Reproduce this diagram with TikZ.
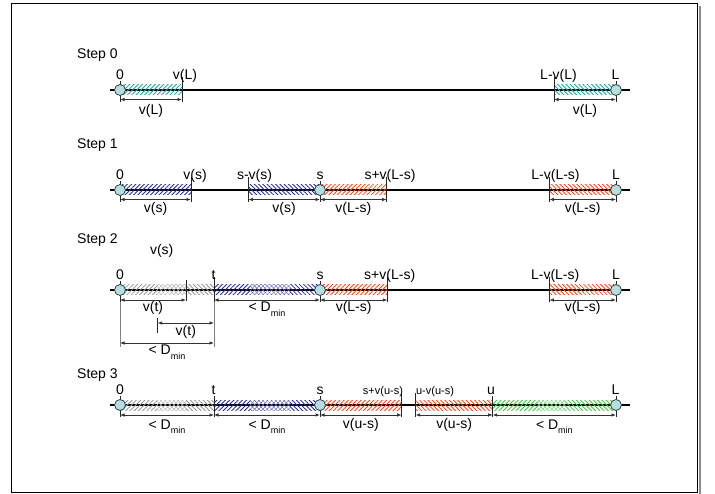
\documentclass[tikz,border=0pt]{standalone}
\usepackage{fontspec}
\setmainfont{Liberation Sans}
\usetikzlibrary{patterns.meta,arrows.meta}

\definecolor{hteal}{RGB}{25,170,170}
\definecolor{hblue}{RGB}{40,40,160}
\definecolor{hred}{RGB}{255,70,25}
\definecolor{hgray}{RGB}{150,150,150}
\definecolor{hgreen}{RGB}{60,205,60}
\definecolor{circfill}{RGB}{182,222,222}
\definecolor{circline}{RGB}{50,70,70}

\tikzset{
  timeline/.style={line width=1.1pt, black},
  tickline/.style={line width=0.8pt, black!85},
  extline/.style={line width=0.6pt, black!50},
  dimarrow/.style={line width=0.7pt, black!80,
    {Latex[length=4.5pt,width=3.5pt]}-{Latex[length=4.5pt,width=3.5pt]}},
  toplab/.style={anchor=base, inner sep=0pt, font=\fontsize{14}{16}\selectfont},
  smalllab/.style={anchor=base, inner sep=0pt, font=\fontsize{11}{13}\selectfont},
  dimlab/.style={anchor=base, inner sep=0pt, font=\fontsize{14}{16}\selectfont},
  steplab/.style={anchor=base west, inner sep=0pt, font=\fontsize{14}{16}\selectfont},
  endpt/.style={circle, draw=circline, fill=circfill, line width=0.8pt,
    minimum size=11pt, inner sep=0pt},
}

% hatched segment: colour, hatch angle, x from, x to, axis y
\newcommand\hatch[5]{%
  \fill[pattern={Lines[angle=#2,distance=3pt,line width=0.85pt]}, pattern color=#1]
    (#3,#5-5) rectangle (#4,#5+5);}
% cross-hatched overlap of two hatchings: colour, x from, x to, axis y
\newcommand\xhatch[4]{%
  \fill[pattern={Hatch[angle=45,distance=3pt,line width=0.5pt]}, pattern color=#1!70]
    (#2,#4-5) rectangle (#3,#4+5);}
% dimension line: name, x from, x to, y, text, text baseline
\newcommand\dimline[6]{%
  \coordinate (#1a) at (#2,#4);
  \coordinate (#1b) at (#3,#4);
  \draw[dimarrow] (#1a) -- (#1b);
  \node[dimlab] (#1l) at ({(#2+#3)/2},#6) {#5};}
% end point of the segment: name, x, axis y
\newcommand\segend[3]{%
  \draw[tickline] (#2,#3-9) -- (#2,#3+12);
  \node[endpt] (#1) at (#2,#3) {};}
\newcommand\Dmin{< D\raisebox{-0.32em}{\fontsize{9}{9}\selectfont min}}

\begin{document}
\begin{tikzpicture}[x=1pt,y=-1pt]
\useasboundingbox (0,0) rectangle (715,494);

% frame with shadow
\fill[black!45] (699,6) rectangle (701,494);
\draw[line width=0.9pt] (11,3) rectangle (697,492);

% ---------------- Step 0 ----------------
\node[steplab] (st0) at (77,58.5) {Step 0};
\draw[timeline] (110,90) -- (630,90);
\hatch{hteal}{45}{120}{182}{90}
\hatch{hteal}{-45}{554}{616}{90}
\draw[tickline] (182,77) -- (182,102);
\draw[tickline] (554,77) -- (554,102);
\segend{a0}{120}{90}
\segend{aL}{616}{90}
\node[toplab] (a0t) at (120,79.5) {0};
\node[toplab] (a1t) at (185,79.5) {v(L)};
\node[toplab] (a2t) at (558.5,79.5) {L-v(L)};
\node[toplab] (aLt) at (615.5,79.5) {L};
\dimline{da1}{120}{182}{99.5}{v(L)}{115}
\dimline{da2}{554}{616}{99.5}{v(L)}{115}

% ---------------- Step 1 ----------------
\node[steplab] (st1) at (77,148.5) {Step 1};
\draw[timeline] (110,190) -- (630,190);
\hatch{hblue}{45}{120}{191}{190}
\hatch{hblue}{-45}{248.3}{320}{190}
\hatch{hred}{45}{320}{386.7}{190}
\hatch{hred}{-45}{549.3}{616}{190}
\foreach \tx in {191,248.3,386.7,549.3}
  \draw[tickline] (\tx,177) -- (\tx,202);
\segend{b0}{120}{190}
\segend{bs}{320}{190}
\segend{bL}{616}{190}
\node[toplab] (b0t) at (120,179.5) {0};
\node[toplab] (b1t) at (195,179.5) {v(s)};
\node[toplab] (b2t) at (254.5,179.5) {s-v(s)};
\node[toplab] (bst) at (320,179.5) {s};
\node[toplab] (b3t) at (390,179.5) {s+v(L-s)};
\node[toplab] (b4t) at (555.5,179.5) {L-v(L-s)};
\node[toplab] (bLt) at (616,179.5) {L};
\dimline{db1}{120}{191}{199.5}{v(s)}{213}
\dimline{db2}{248.3}{320}{199.5}{v(s)}{213}
\dimline{db3}{320}{386.7}{199.5}{v(L-s)}{213}
\dimline{db4}{549.3}{616}{199.5}{v(L-s)}{213}

% ---------------- Step 2 ----------------
\node[steplab] (st2) at (77,243.5) {Step 2};
\node[toplab] (c5t) at (161.7,255) {v(s)};
\draw[timeline] (110,290) -- (630,290);
\hatch{hgray}{45}{120}{157}{290}
\xhatch{hgray}{157}{186}{290}
\hatch{hgray}{-45}{186}{214}{290}
\hatch{hblue}{45}{214}{250}{290}
\xhatch{hblue}{250}{290}{290}
\hatch{hblue}{-45}{290}{320}{290}
\hatch{hred}{45}{320}{387.3}{290}
\hatch{hred}{-45}{549.3}{616}{290}
\draw[tickline] (186,280) -- (186,301);
\draw[tickline] (214,277) -- (214,302);
\foreach \tx in {387.3,549.3}
  \draw[tickline] (\tx,277) -- (\tx,302);
\draw[extline] (120,302) -- (120,347);
\draw[extline] (214,302) -- (214,347);
\draw[tickline] (157.7,318) -- (157.7,333);
\segend{c0}{120}{290}
\segend{cs}{320}{290}
\segend{cL}{616}{290}
\node[toplab] (c0t) at (120,279.5) {0};
\node[toplab] (ctt) at (213.5,279.5) {t};
\node[toplab] (cst) at (320,279.5) {s};
\node[toplab] (c3t) at (389.7,279.5) {s+v(L-s)};
\node[toplab] (c4t) at (555.2,279.5) {L-v(L-s)};
\node[toplab] (cLt) at (616,279.5) {L};
\dimline{dc1}{120}{186}{300}{v(t)}{312}
\dimline{dc2}{214}{320}{300}{\Dmin}{312}
\dimline{dc3}{320}{387.3}{300}{v(L-s)}{312}
\dimline{dc4}{549.3}{616}{300}{v(L-s)}{312}
\dimline{dc5}{157.7}{214}{323}{v(t)}{336}
\dimline{dc6}{120}{214}{343}{\Dmin}{355}

% ---------------- Step 3 ----------------
\node[steplab] (st3) at (77,378.5) {Step 3};
\draw[timeline] (110,405) -- (630,405);
\hatch{hgray}{45}{120}{157}{405}
\xhatch{hgray}{157}{186}{405}
\hatch{hgray}{-45}{186}{214}{405}
\hatch{hblue}{45}{214}{250}{405}
\xhatch{hblue}{250}{290}{405}
\hatch{hblue}{-45}{290}{320}{405}
\hatch{hred}{45}{320}{401.7}{405}
\hatch{hred}{-45}{415.7}{492.7}{405}
\hatch{hgreen}{45}{492.7}{538}{405}
\xhatch{hgreen}{538}{565}{405}
\hatch{hgreen}{-45}{565}{616}{405}
\draw[tickline] (214,396) -- (214,417);
\draw[tickline] (401.7,393) -- (401.7,417);
\draw[tickline] (415.7,393) -- (415.7,417);
\draw[tickline] (492.7,396) -- (492.7,417);
\segend{d0}{120}{405}
\segend{ds}{320}{405}
\segend{dL}{616}{405}
\node[toplab] (d0t) at (120,394.5) {0};
\node[toplab] (dtt) at (213.5,394.5) {t};
\node[toplab] (dst) at (320,394.5) {s};
\node[smalllab] (d3t) at (383,394.5) {s+v(u-s)};
\node[smalllab] (d4t) at (435,394.5) {u-v(u-s)};
\node[toplab] (dut) at (491,394.5) {u};
\node[toplab] (dLt) at (615.5,394.5) {L};
\dimline{dd1}{120}{214}{415}{\Dmin}{429}
\dimline{dd2}{214}{320}{415}{\Dmin}{429}
\dimline{dd3}{320}{401.7}{415}{v(u-s)}{428}
\dimline{dd4}{415.7}{492.7}{415}{v(u-s)}{428}
\dimline{dd5}{492.7}{616}{415}{\Dmin}{429}
\end{tikzpicture}
\end{document}
